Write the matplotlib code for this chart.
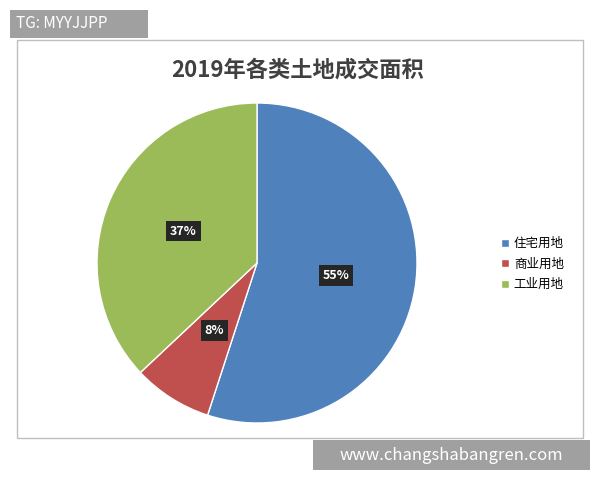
import matplotlib
matplotlib.use("Agg")
import matplotlib.pyplot as plt
from matplotlib.patches import Rectangle
import numpy as np

plt.rcParams["font.family"] = ["Noto Sans CJK SC", "DejaVu Sans"]

categories = ["住宅用地", "商业用地", "工业用地"]
shares = [55, 8, 37]
colors = ["#4F81BD", "#C0504D", "#9BBB59"]

W, H = 600, 480
fig = plt.figure(figsize=(6, 4.8), dpi=100)
fig.patch.set_facecolor("white")

# chart frame
fig.patches.append(Rectangle((17 / W, 1 - 438 / H), 566 / W, 398 / H,
                             transform=fig.transFigure, fill=False,
                             edgecolor="#BFBFBF", lw=1))

fig.text(298 / W, 1 - 70 / H, "2019年各类土地成交面积", ha="center", va="center",
         fontsize=16, fontweight="bold", color="#404040")

r = 160
ax = fig.add_axes([(257 - r) / W, 1 - (263 + r) / H, 2 * r / W, 2 * r / H])
wedges, texts = ax.pie(shares, colors=colors, startangle=90, counterclock=False,
                       wedgeprops=dict(edgecolor="white", linewidth=1))
ax.set_xlim(-1, 1)
ax.set_ylim(-1, 1)
for w, s in zip(wedges, shares):
    mid = np.deg2rad((w.theta1 + w.theta2) / 2)
    ax.text(0.5 * np.cos(mid), 0.5 * np.sin(mid), f"{s}%", ha="center", va="center",
            color="white", fontsize=9, fontweight="bold",
            bbox=dict(boxstyle="square,pad=0.3", fc="#262626", ec="none"))

fig.legend(wedges, categories, loc="center left", bbox_to_anchor=(490 / W, 1 - 264 / H),
           frameon=False, fontsize=9, handlelength=0.6, handleheight=0.6,
           handletextpad=0.4, labelspacing=0.6)

fig.patches.append(Rectangle((10 / W, 1 - 38 / H), 138 / W, 28 / H,
                             transform=fig.transFigure, fc="#A0A0A0", ec="none"))
fig.text(16 / W, 1 - 24 / H, "TG: MYYJJPP", ha="left", va="center",
         fontsize=11, color="white")
fig.patches.append(Rectangle((313 / W, 1 - 470 / H), 277 / W, 30 / H,
                             transform=fig.transFigure, fc="#A0A0A0", ec="none"))
fig.text(451 / W, 1 - 455 / H, "www.changshabangren.com", ha="center", va="center",
         fontsize=12, color="white")

fig.savefig("out.png", dpi=100)
